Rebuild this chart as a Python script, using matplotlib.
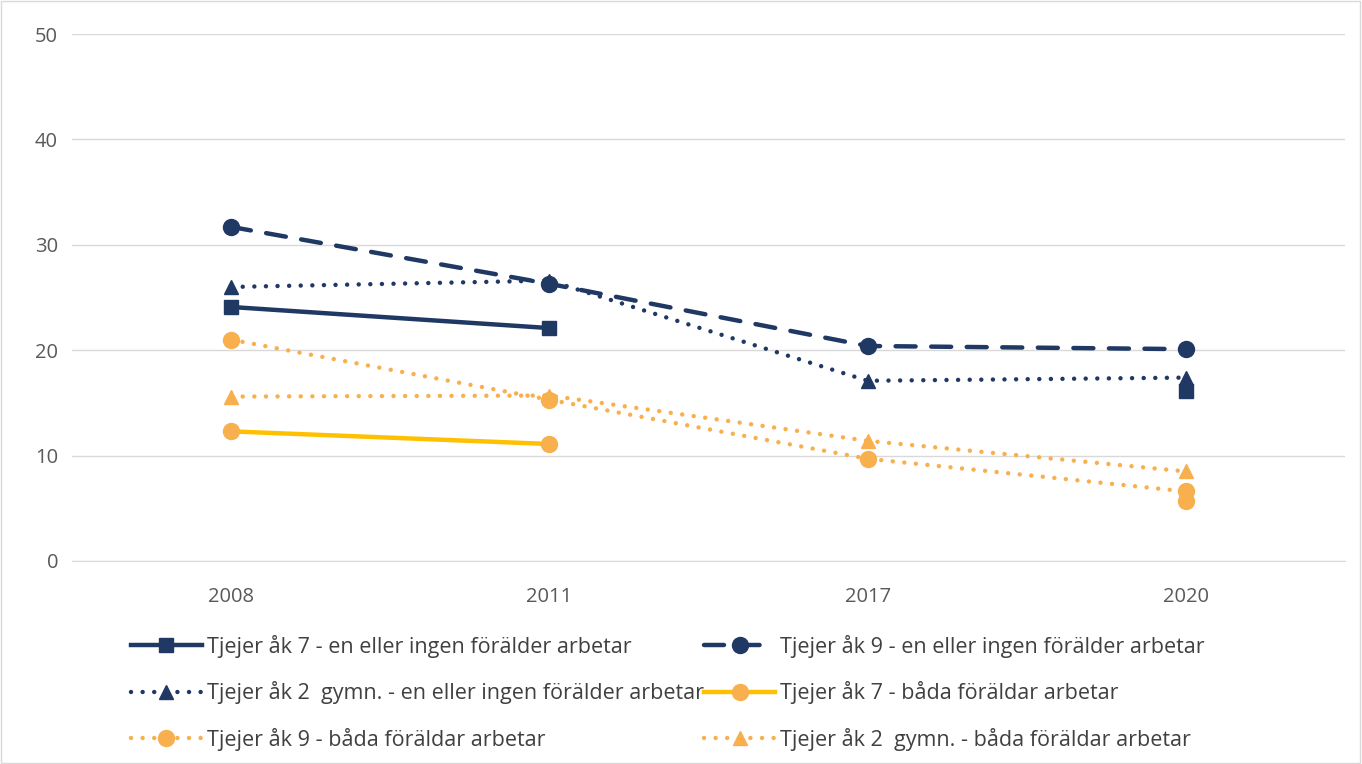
import numpy as np
import matplotlib.pyplot as plt
from matplotlib.patches import Rectangle

plt.rcParams['font.family'] = ['Open Sans', 'DejaVu Sans']

years = ['2008', '2011', '2017', '2020']
nan = np.nan

# series values (percent)
ak7_en = [24.1, 22.1, nan, 16.1]
ak9_en = [31.7, 26.3, 20.4, 20.1]
ak2_en = [26.0, 26.6, 17.1, 17.4]
ak7_bada = [12.3, 11.1, nan, 5.7]
ak9_bada = [21.0, 15.3, 9.7, 6.6]
ak2_bada = [15.6, 15.7, 11.4, 8.5]

labels = [
    'Tjejer åk 7 - en eller ingen förälder arbetar',
    'Tjejer åk 9 - en eller ingen förälder arbetar',
    'Tjejer åk 2  gymn. - en eller ingen förälder arbetar',
    'Tjejer åk 7 - båda föräldar arbetar',
    'Tjejer åk 9 - båda föräldar arbetar',
    'Tjejer åk 2  gymn. - båda föräldar arbetar',
]

navy = '#203864'
orange = '#F8B04E'
yellow = '#FFC000'
dotted = (0, (0.01, 2.6))
dashed = (0, (4.5, 3.5))

fig = plt.figure(figsize=(13.62, 7.64), dpi=100)
ax = fig.add_axes([72 / 1362, 1 - 561 / 764, (1345 - 72) / 1362, (561 - 34) / 764])

x = np.arange(len(years))
lw = 3.2
ms = 10.5
h = []
h += ax.plot(x, ak7_en, color=navy, lw=lw, marker='s', ms=ms, label=labels[0])
h += ax.plot(x, ak9_en, color=navy, lw=lw, ls=dashed, marker='o', ms=ms + 1,
             dash_capstyle='round', label=labels[1])
h += ax.plot(x, ak2_en, color=navy, lw=lw, ls=dotted, marker='^', ms=ms,
             dash_capstyle='round', label=labels[2])
h += ax.plot(x, ak7_bada, color=yellow, lw=lw, marker='o', ms=ms + 1,
             mfc=orange, mec=orange, label=labels[3])
h += ax.plot(x, ak9_bada, color=orange, lw=lw, ls=dotted, marker='o', ms=ms + 1,
             dash_capstyle='round', label=labels[4])
h += ax.plot(x, ak2_bada, color=orange, lw=lw, ls=dotted, marker='^', ms=ms,
             dash_capstyle='round', label=labels[5])

ax.set_xlim(-0.5, 3.5)
ax.set_ylim(0, 50)
ax.set_yticks(range(0, 51, 10))
ax.set_xticks(x)
ax.set_xticklabels(years)
ax.grid(axis='y', color='#D9D9D9', lw=1)
ax.set_axisbelow(True)
for s in ['top', 'right', 'left']:
    ax.spines[s].set_visible(False)
ax.spines['bottom'].set_color('#D9D9D9')
ax.tick_params(length=0, labelsize=14.5, colors='#595959')
ax.tick_params(axis='x', pad=19)
ax.tick_params(axis='y', pad=10)

# legend filled row by row like the original
order = [0, 2, 4, 1, 3, 5]
leg = fig.legend([h[i] for i in order], [labels[i] for i in order],
                 loc='upper left', bbox_to_anchor=(122 / 1362, 1 - 626 / 764),
                 ncol=2, frameon=False, fontsize=15.5, handlelength=3.3,
                 handletextpad=0.25, columnspacing=0.0, labelspacing=1.1,
                 labelcolor='#404040', borderaxespad=0)

fig.patches.append(Rectangle((0.0005, 0.001), 0.998, 0.998, transform=fig.transFigure,
                             fill=False, edgecolor='#D9D9D9', lw=1))

fig.savefig('out.png', dpi=100)
